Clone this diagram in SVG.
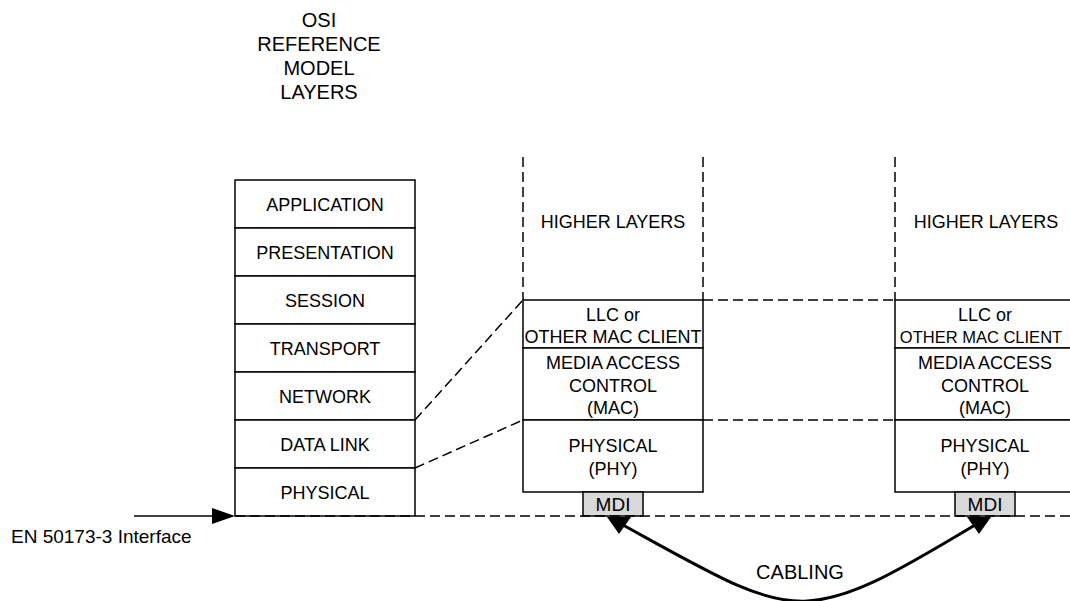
<svg xmlns="http://www.w3.org/2000/svg" width="1070" height="601" viewBox="0 0 1070 601">
<style>
text{font-family:"Liberation Sans",Arial,sans-serif;font-size:18px;fill:#000;text-anchor:middle}
.box{fill:#fff;stroke:#000;stroke-width:1.5}
.mdi{fill:#d9d9d9;stroke:#000;stroke-width:1.5}
.dash{fill:none;stroke:#000;stroke-width:1.5;stroke-dasharray:10 5}
.solid{fill:none;stroke:#000;stroke-width:1.5}
.big{font-size:20px}
</style>
<rect width="1070" height="601" fill="#fff"/>
<g id="title">
<text class="big" x="319" y="27">OSI</text>
<text class="big" x="319" y="51">REFERENCE</text>
<text class="big" x="319" y="75">MODEL</text>
<text class="big" x="319" y="99">LAYERS</text>
</g>
<g id="connectors">
<line class="dash" x1="523" y1="157" x2="523" y2="300"/>
<line class="dash" x1="703" y1="157" x2="703" y2="300"/>
<line class="dash" x1="895" y1="157" x2="895" y2="300"/>
<line class="dash" x1="703" y1="300" x2="895" y2="300"/>
<line class="dash" x1="703" y1="420" x2="895" y2="420"/>
<line class="dash" x1="415" y1="420" x2="523" y2="300"/>
<line class="dash" x1="415" y1="468" x2="523" y2="420"/>
<line class="solid" x1="134" y1="516" x2="215" y2="516"/>
<polygon points="235,516 212,508 212,524" fill="#000"/>
<path d="M623,525 C799,622 799,631 975,525" fill="none" stroke="#000" stroke-width="3"/>
<polygon points="607,517 631,517 619,534" fill="#000"/>
<polygon points="967,517 991,517 979,534" fill="#000"/>
</g>
<g id="osi-stack">
<rect class="box" x="235" y="180" width="180" height="48"/>
<rect class="box" x="235" y="228" width="180" height="48"/>
<rect class="box" x="235" y="276" width="180" height="48"/>
<rect class="box" x="235" y="324" width="180" height="48"/>
<rect class="box" x="235" y="372" width="180" height="48"/>
<rect class="box" x="235" y="420" width="180" height="48"/>
<rect class="box" x="235" y="468" width="180" height="48"/>
<text x="325" y="211">APPLICATION</text>
<text x="325" y="259">PRESENTATION</text>
<text x="325" y="307">SESSION</text>
<text x="325" y="355">TRANSPORT</text>
<text x="325" y="403">NETWORK</text>
<text x="325" y="451">DATA LINK</text>
<text x="325" y="499">PHYSICAL</text>
</g>
<g id="stack1">
<text x="613" y="228">HIGHER LAYERS</text>
<rect class="box" x="523" y="300" width="180" height="48"/>
<rect class="box" x="523" y="348" width="180" height="72"/>
<rect class="box" x="523" y="420" width="180" height="72"/>
<text x="613" y="321">LLC or</text>
<text x="613" y="343">OTHER MAC CLIENT</text>
<text x="613" y="369">MEDIA ACCESS</text>
<text x="613" y="392">CONTROL</text>
<text x="613" y="414">(MAC)</text>
<text x="613" y="452">PHYSICAL</text>
<text x="613" y="475">(PHY)</text>
</g>
<g id="stack2">
<text x="986" y="228">HIGHER LAYERS</text>
<rect class="box" x="895" y="300" width="180" height="48"/>
<rect class="box" x="895" y="348" width="180" height="72"/>
<rect class="box" x="895" y="420" width="180" height="72"/>
<text x="985" y="321">LLC or</text>
<text x="981" y="343" style="font-size:16.5px">OTHER MAC CLIENT</text>
<text x="985" y="369">MEDIA ACCESS</text>
<text x="985" y="392">CONTROL</text>
<text x="985" y="414">(MAC)</text>
<text x="985" y="452">PHYSICAL</text>
<text x="985" y="475">(PHY)</text>
</g>
<g id="mdi1">
<rect class="mdi" x="583" y="492" width="60" height="24"/>
<text x="613" y="511" style="font-size:19px">MDI</text>
</g>
<g id="mdi2">
<rect class="mdi" x="955" y="492" width="60" height="24"/>
<text x="985" y="511" style="font-size:19px">MDI</text>
</g>
<g id="interface-line">
<line class="dash" x1="235" y1="516" x2="1070" y2="516"/>
</g>
<g id="labels">
<text x="11" y="543" style="font-size:19px;text-anchor:start">EN 50173-3 Interface</text>
<text class="big" x="800" y="579">CABLING</text>
</g>
</svg>
